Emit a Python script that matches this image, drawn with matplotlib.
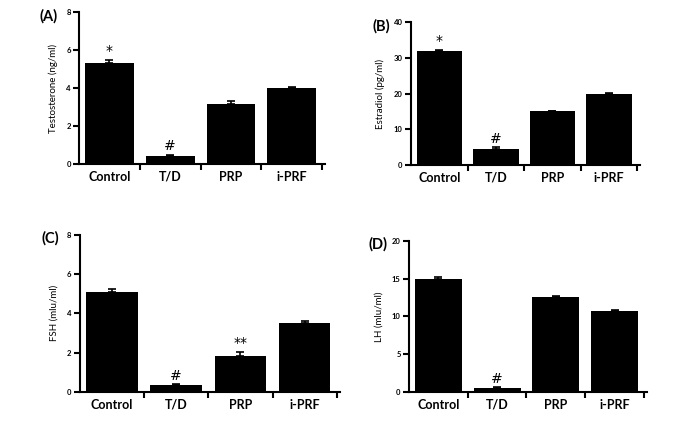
import matplotlib
matplotlib.use('Agg')
import matplotlib.pyplot as plt

groups = ['Control', 'T/D', 'PRP', 'i-PRF']

testo = [5.3, 0.45, 3.15, 4.0]
testo_err = [0.2, 0.05, 0.15, 0.05]
estra = [32.0, 4.6, 15.0, 20.0]
estra_err = [0.3, 0.3, 0.2, 0.2]
fsh = [5.1, 0.33, 1.83, 3.5]
fsh_err = [0.12, 0.05, 0.2, 0.13]
lh = [15.0, 0.5, 12.6, 10.7]
lh_err = [0.15, 0.1, 0.1, 0.1]

marks_a = ['*', '#', '', '']
marks_b = ['*', '#', '', '']
marks_c = ['', '#', '**', '']
marks_d = ['', '#', '', '']

plt.rcParams['font.family'] = ['Lato', 'DejaVu Sans']

fig = plt.figure(figsize=(6.76, 4.33), dpi=100)

panels = [
    # rect, values, err, marks, ylim, yticks, ylabel, tag
    ([0.117, 0.621, 0.364, 0.351], testo, testo_err, marks_a, 8, [0, 2, 4, 6, 8], 'Testosterone (ng/ml)', '(A)'),
    ([0.608, 0.619, 0.339, 0.330], estra, estra_err, marks_b, 40, [0, 10, 20, 30, 40], 'Estradiol (pg/ml)', '(B)'),
    ([0.118, 0.095, 0.385, 0.363], fsh, fsh_err, marks_c, 8, [0, 2, 4, 6, 8], 'FSH (mlu/ml)', '(C)'),
    ([0.605, 0.095, 0.352, 0.349], lh, lh_err, marks_d, 20, [0, 5, 10, 15, 20], 'LH (mlu/ml)', '(D)'),
]

x = range(len(groups))
for rect, vals, err, marks, ymax, yt, ylab, tag in panels:
    ax = fig.add_axes(rect)
    ax.bar(x, vals, width=0.8, color='black', zorder=2)
    ax.errorbar(x, vals, yerr=[[0] * 4, err], fmt='none', ecolor='black',
                elinewidth=1.2, capsize=3, capthick=1.2, zorder=3)
    for i, m in enumerate(marks):
        if m:
            ax.text(i, vals[i] + err[i] + ymax * 0.01, m, ha='center', va='bottom',
                    fontsize=10, family='DejaVu Sans')
    ax.set_xlim(-0.5, 3.55)
    ax.set_ylim(0, ymax)
    ax.set_yticks(yt)
    ax.set_xticks(list(x))
    ax.set_xticklabels(groups, fontsize=9, fontweight='bold', va='baseline')
    ax.set_xticks([0.5, 1.5, 2.5, 3.5], minor=True)
    ax.tick_params(axis='x', which='major', length=0, pad=12)
    ax.tick_params(axis='x', which='minor', length=4, width=1.5)
    ax.tick_params(axis='y', length=4, width=1.5, labelsize=5.5, pad=2)
    for lbl in ax.get_yticklabels():
        lbl.set_fontweight('bold')
    ax.set_ylabel(ylab, fontsize=7, labelpad=6)
    for s in ['top', 'right']:
        ax.spines[s].set_visible(False)
    for s in ['left', 'bottom']:
        ax.spines[s].set_linewidth(1.5)
    ax.annotate(tag, xy=(0, 1), xycoords='axes fraction', xytext=(-21, -4),
                textcoords='offset pixels', fontsize=10.5, fontweight='bold',
                ha='right', va='center')

fig.savefig('out.png', dpi=100)
